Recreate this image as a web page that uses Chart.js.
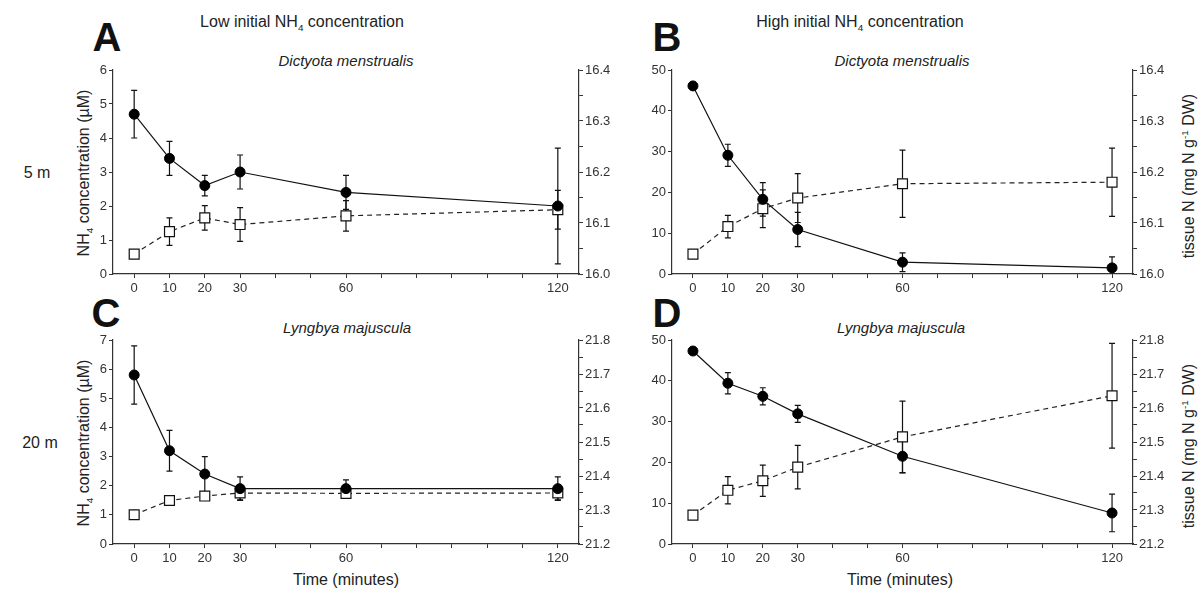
<!DOCTYPE html>
<html>
<head>
<meta charset="utf-8">
<script src="https://cdn.jsdelivr.net/npm/chart.js@4.4.1/dist/chart.umd.min.js"></script>
<style>
body { margin: 0; background: #fff; width: 1198px; height: 590px; position: relative; overflow: hidden;
       font-family: "Liberation Sans", Arial, sans-serif; color: #222; }
canvas { position: absolute; }
.lbl { position: absolute; transform: translate(-50%, -50%); white-space: nowrap; }
.rot { transform: translate(-50%, -50%) rotate(-90deg); }
.big { font-size: 16px; }
.letter { font-size: 40px; font-weight: bold; color: #111; }
.species { font-size: 15px; font-style: italic; }
.axis { font-size: 16px; }
sub, sup { font-size: 0.62em; line-height: 0; }
</style>
</head>
<body>
<div class="lbl big" style="left:302px;top:22px">Low initial NH<sub>4</sub> concentration</div>
<div class="lbl big" style="left:860px;top:22px">High initial NH<sub>4</sub> concentration</div>
<div class="lbl letter" style="left:107px;top:37px">A</div>
<div class="lbl letter" style="left:667px;top:37px">B</div>
<div class="lbl letter" style="left:106px;top:313px">C</div>
<div class="lbl letter" style="left:667px;top:313px">D</div>
<div class="lbl species" style="left:346px;top:60px">Dictyota menstrualis</div>
<div class="lbl species" style="left:902px;top:60px">Dictyota menstrualis</div>
<div class="lbl species" style="left:347px;top:327px">Lyngbya majuscula</div>
<div class="lbl species" style="left:901px;top:327px">Lyngbya majuscula</div>
<div class="lbl axis" style="left:37px;top:173px">5 m</div>
<div class="lbl axis" style="left:40px;top:443px">20 m</div>
<div class="lbl axis rot" style="left:84px;top:173px">NH<sub>4</sub> concentration (µM)</div>
<div class="lbl axis rot" style="left:84px;top:443px">NH<sub>4</sub> concentration (µM)</div>
<div class="lbl axis rot" style="left:1189px;top:176px">tissue N (mg N g<sup>-1</sup> DW)</div>
<div class="lbl axis rot" style="left:1189px;top:446px">tissue N (mg N g<sup>-1</sup> DW)</div>
<div class="lbl big" style="left:346px;top:580px">Time (minutes)</div>
<div class="lbl big" style="left:900px;top:580px">Time (minutes)</div>

<canvas id="chartA"></canvas>
<canvas id="chartB"></canvas>
<canvas id="chartC"></canvas>
<canvas id="chartD"></canvas>

<script>
// 시간 (분)
const times = [0, 10, 20, 30, 60, 120];
const xTickMarks = [0, 10, 20, 30, 40, 50, 60, 70, 80, 90, 100, 110, 120];
const xTickLabels = [0, 10, 20, 30, 60, 120];

// A: low NH4, 5 m
const nh4A = [4.7, 3.4, 2.6, 3.0, 2.4, 2.0];
const nh4ErrA = [0.7, 0.5, 0.3, 0.5, 0.5, 1.7];
const tissueA = [16.039, 16.083, 16.110, 16.097, 16.114, 16.126];
const tissueErrA = [0, 0.027, 0.024, 0.033, 0.030, 0.038];

// B: high NH4, 5 m
const nh4B = [46.1, 29.1, 18.3, 10.9, 2.9, 1.5];
const nh4ErrB = [0, 2.7, 4.1, 4.2, 2.3, 2.7];
const tissueB = [16.039, 16.093, 16.128, 16.149, 16.177, 16.180];
const tissueErrB = [0, 0.022, 0.037, 0.048, 0.066, 0.067];

// C: low NH4, 20 m
const nh4C = [5.8, 3.2, 2.4, 1.9, 1.9, 1.9];
const nh4ErrC = [1.0, 0.7, 0.6, 0.4, 0.3, 0.4];
const tissueC = [21.286, 21.328, 21.341, 21.350, 21.349, 21.350];
const tissueErrC = [0, 0.012, 0.012, 0.02, 0.015, 0.02];

// D: high NH4, 20 m
const nh4D = [47.3, 39.4, 36.2, 31.9, 21.5, 7.6];
const nh4ErrD = [0, 2.6, 2.1, 2.1, 4.1, 4.6];
const tissueD = [21.285, 21.358, 21.386, 21.426, 21.515, 21.636];
const tissueErrD = [0, 0.04, 0.046, 0.064, 0.105, 0.154];

// 축 눈금
const nh4TicksLow5 = [0, 1, 2, 3, 4, 5, 6];
const nh4TicksLow20 = [0, 1, 2, 3, 4, 5, 6, 7];
const nh4TicksHigh = [0, 10, 20, 30, 40, 50];
const tissueTicks5 = [16.0, 16.1, 16.2, 16.3, 16.4];
const tissueTicks20 = [21.2, 21.3, 21.4, 21.5, 21.6, 21.7, 21.8];

const FONT = '"Liberation Sans", Arial, sans-serif';
const AXIS = '#333';

// 오차 막대 플러그인
const errorBars = {
    id: 'errorBars',
    beforeDatasetsDraw(chart) {
        const ctx = chart.ctx;
        const area = chart.chartArea;
        ctx.save();
        ctx.beginPath();
        ctx.rect(area.left, area.top - 2, area.right - area.left, area.bottom - area.top + 2);
        ctx.clip();
        ctx.strokeStyle = '#111';
        ctx.lineWidth = 1.2;
        chart.data.datasets.forEach(ds => {
            const yScale = chart.scales[ds.yAxisID];
            const xScale = chart.scales.x;
            ds.data.forEach((pt, j) => {
                const e = ds.errors[j];
                if (!e) return;
                const x = xScale.getPixelForValue(pt.x);
                const y1 = yScale.getPixelForValue(pt.y + e);
                const y2 = yScale.getPixelForValue(pt.y - e);
                ctx.beginPath();
                ctx.moveTo(x, y1); ctx.lineTo(x, y2);
                ctx.moveTo(x - 3, y1); ctx.lineTo(x + 3, y1);
                ctx.moveTo(x - 3, y2); ctx.lineTo(x + 3, y2);
                ctx.stroke();
            });
        });
        ctx.restore();
    }
};

function toPoints(values) {
    return times.map((t, i) => ({ x: t, y: values[i] }));
}

function leftScale(ticks) {
    return {
        type: 'linear', position: 'left',
        min: ticks[0], max: ticks[ticks.length - 1],
        afterBuildTicks: s => { s.ticks = ticks.map(v => ({ value: v })); },
        afterFit: s => { s.width = 40; },
        grid: { drawOnChartArea: false, tickLength: 4, color: AXIS },
        border: { color: AXIS, width: 1.2 },
        ticks: { autoSkip: false, color: '#333', padding: 2, font: { size: 13, family: FONT } }
    };
}

function rightScale(labelled) {
    const all = [];
    labelled.forEach((v, i) => {
        all.push(v);
        if (i < labelled.length - 1) all.push((v + labelled[i + 1]) / 2);
    });
    return {
        type: 'linear', position: 'right',
        min: labelled[0], max: labelled[labelled.length - 1],
        afterBuildTicks: s => { s.ticks = all.map(v => ({ value: v })); },
        afterFit: s => { s.width = 40; },
        grid: { drawOnChartArea: false, tickLength: 4, color: AXIS },
        border: { color: AXIS, width: 1.2 },
        ticks: {
            autoSkip: false, color: '#333', padding: 2, font: { size: 13, family: FONT },
            callback: v => labelled.some(l => Math.abs(l - v) < 1e-6) ? v.toFixed(1) : ''
        }
    };
}

function makePanel(id, box, area, nh4, nh4Err, tissue, tissueErr, nh4Ticks, tissueTicks) {
    const canvas = document.getElementById(id);
    canvas.width = box.w; canvas.height = box.h;
    canvas.style.left = box.x + 'px'; canvas.style.top = box.y + 'px';
    canvas.style.width = box.w + 'px'; canvas.style.height = box.h + 'px';

    new Chart(canvas.getContext('2d'), {
        type: 'line',
        data: {
            datasets: [{
                data: toPoints(nh4), errors: nh4Err, yAxisID: 'y',
                borderColor: '#111', borderWidth: 1.2,
                pointStyle: 'circle', pointRadius: 5,
                pointBackgroundColor: '#000', pointBorderColor: '#000', pointBorderWidth: 1
            }, {
                data: toPoints(tissue), errors: tissueErr, yAxisID: 'y2',
                borderColor: '#222', borderWidth: 1.2, borderDash: [5, 4],
                pointStyle: 'rect', pointRadius: 7,
                pointBackgroundColor: '#fff', pointBorderColor: '#111', pointBorderWidth: 1.2
            }]
        },
        options: {
            responsive: false,
            animation: false,
            devicePixelRatio: 1,
            layout: {
                padding: {
                    left: area.l - box.x - 40,
                    right: box.x + box.w - area.r - 40,
                    top: area.t - box.y,
                    bottom: box.y + box.h - area.b - 30
                }
            },
            plugins: { legend: { display: false }, tooltip: { enabled: false } },
            scales: {
                x: {
                    type: 'linear', min: -6, max: 126,
                    afterBuildTicks: s => { s.ticks = xTickMarks.map(v => ({ value: v })); },
                    afterFit: s => { s.height = 30; },
                    grid: { drawOnChartArea: false, tickLength: 4, color: AXIS },
                    border: { color: AXIS, width: 1.2 },
                    ticks: {
                        autoSkip: false, maxRotation: 0, color: '#333', padding: 3,
                        font: { size: 13, family: FONT },
                        callback: v => xTickLabels.includes(v) ? String(v) : ''
                    }
                },
                y: leftScale(nh4Ticks),
                y2: rightScale(tissueTicks)
            }
        },
        plugins: [errorBars]
    });
}

makePanel('chartA', { x: 0, y: 40, w: 640, h: 264 }, { l: 113, r: 579, t: 70, b: 274 },
    nh4A, nh4ErrA, tissueA, tissueErrA, nh4TicksLow5, tissueTicks5);
makePanel('chartB', { x: 560, y: 40, w: 638, h: 264 }, { l: 672, r: 1133, t: 70, b: 274 },
    nh4B, nh4ErrB, tissueB, tissueErrB, nh4TicksHigh, tissueTicks5);
makePanel('chartC', { x: 0, y: 310, w: 640, h: 264 }, { l: 113, r: 579, t: 340, b: 544 },
    nh4C, nh4ErrC, tissueC, tissueErrC, nh4TicksLow20, tissueTicks20);
makePanel('chartD', { x: 560, y: 310, w: 638, h: 264 }, { l: 672, r: 1133, t: 340, b: 544 },
    nh4D, nh4ErrD, tissueD, tissueErrD, nh4TicksHigh, tissueTicks20);
</script>
</body>
</html>
